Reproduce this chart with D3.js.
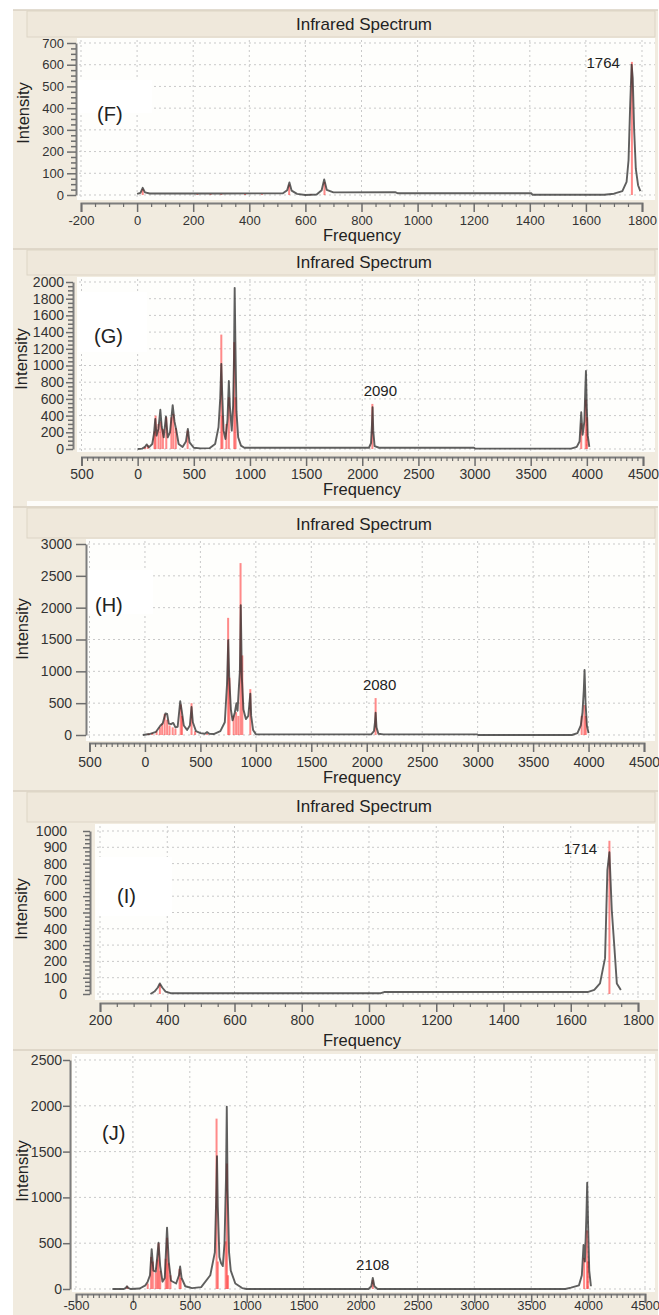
<!DOCTYPE html>
<html>
<head>
<meta charset="utf-8">
<script src="https://cdn.jsdelivr.net/npm/d3@7"></script>
<style>
  body { margin: 0; background: #fff; }
  svg { display: block; font-family: "Liberation Sans", Arial, sans-serif; }
</style>
</head>
<body>
<svg id="chart" width="659" height="1315"></svg>
<script>
// ---- data: [frequency, intensity] ----
let fSticks = [[20,28],[215,4],[262,4],[300,4],[385,5],[445,4],[542,48],[620,3],[668,60],[1764,613]];
let fCurve = [[0,5],[12,10],[20,33],[28,12],[45,7],[300,7],[520,8],[535,22],[543,58],[551,20],[570,5],[600,0],[640,2],[658,22],[667,72],[676,24],[700,12],[920,13],[930,8],[1405,8],[1410,1],[1665,1],[1700,6],[1730,18],[1745,60],[1752,160],[1758,420],[1763,600],[1767,540],[1772,300],[1778,120],[1786,45],[1794,18]];
let fXTicks = [-200,0,200,400,600,800,1000,1200,1400,1600,1800];
let fXLabels = ['-200','0','200','400','600','800','1000','1200','1400','1600','1800'];
let fYTicks = [0,100,200,300,400,500,600,700];
let fPeak = '1764';

let gSticks = [[65,25],[90,45],[150,210],[160,400],[185,300],[205,330],[225,240],[255,380],[300,380],[318,420],[340,250],[445,220],[745,1370],[755,400],[790,300],[812,620],[860,1280],[872,620],[2090,540],[3950,310],[3990,590],[4002,380]];
let gCurve = [[0,0],[40,5],[65,25],[80,55],[100,20],[130,60],[145,180],[157,360],[168,160],[185,240],[202,470],[214,270],[232,140],[252,390],[268,140],[288,200],[312,525],[328,330],[345,220],[365,60],[400,25],[430,90],[447,240],[462,80],[500,15],[560,8],[640,10],[690,60],[720,260],[735,600],[745,1020],[752,700],[765,220],[782,120],[800,350],[812,815],[822,500],[838,220],[850,520],[858,1100],[864,1930],[870,1300],[880,450],[895,140],[920,40],[950,15],[1500,15],[2060,15],[2078,70],[2086,280],[2092,500],[2098,220],[2110,35],[2150,15],[2995,15],[3005,5],[3860,5],[3910,25],[3935,90],[3950,440],[3962,170],[3978,330],[3986,700],[3992,935],[3999,520],[4008,160],[4022,25]];
let gXTicks = [-500,0,500,1000,1500,2000,2500,3000,3500,4000,4500];
let gXLabels = ['500','0','500','1000','1500','2000','2500','3000','3500','4000','4500'];
let gYTicks = [0,200,400,600,800,1000,1200,1400,1600,1800,2000];
let gPeak = '2090';

let hSticks = [[30,20],[65,30],[105,60],[135,120],[155,180],[178,330],[200,240],[222,150],[250,120],[275,100],[322,480],[334,300],[420,500],[452,60],[560,25],[750,1840],[762,900],[800,300],[822,360],[842,300],[862,2700],[878,1250],[950,720],[2080,580],[3938,300],[3962,470],[3975,300]];
let hCurve = [[-20,0],[40,15],[100,50],[140,150],[160,180],[185,340],[200,330],[215,180],[235,170],[255,190],[275,120],[295,130],[318,530],[332,380],[350,150],[380,80],[405,150],[420,440],[432,200],[460,60],[500,30],[540,20],[560,45],[580,20],[620,15],[680,60],[720,200],[740,800],[751,1490],[760,900],[775,400],[790,230],[810,350],[825,500],[835,380],[848,780],[856,1000],[864,2040],[874,900],[888,400],[910,250],[932,300],[950,650],[958,300],[975,80],[1000,10],[1500,10],[2040,10],[2065,60],[2074,200],[2080,350],[2088,120],[2105,20],[2150,10],[2995,10],[3005,0],[3850,0],[3900,30],[3930,150],[3945,350],[3957,700],[3964,1020],[3973,500],[3985,150],[4000,30]];
let hXTicks = [-500,0,500,1000,1500,2000,2500,3000,3500,4000,4500];
let hXLabels = ['500','0','500','1000','1500','2000','2500','3000','3500','4000','4500'];
let hYTicks = [0,500,1000,1500,2000,2500,3000];
let hPeak = '2080';

let iSticks = [[378,60],[1715,940]];
let iCurve = [[350,0],[362,15],[372,40],[378,65],[385,40],[395,15],[410,5],[1035,5],[1045,12],[1650,12],[1670,25],[1687,65],[1702,220],[1709,760],[1715,870],[1722,515],[1729,310],[1737,65],[1749,25]];
let iXTicks = [200,400,600,800,1000,1200,1400,1600,1800];
let iXLabels = ['200','400','600','800','1000','1200','1400','1600','1800'];
let iYTicks = [0,100,200,300,400,500,600,700,800,900,1000];
let iPeak = '1714';

let jSticks = [[-50,30],[130,60],[160,350],[175,300],[200,180],[215,320],[226,500],[240,200],[288,330],[300,560],[312,280],[330,150],[410,220],[420,120],[735,1860],[746,300],[815,520],[826,1370],[836,150],[2108,100],[3965,340],[3990,640],[4000,300]];
let jCurve = [[-180,0],[-80,0],[-62,12],[-52,30],[-42,12],[-20,0],[60,5],[110,40],[130,80],[150,150],[165,435],[180,200],[200,190],[210,300],[225,505],[240,250],[260,80],[280,120],[300,670],[315,300],[335,90],[380,60],[405,150],[415,245],[428,120],[460,30],[520,10],[600,20],[680,150],[720,400],[732,1000],[739,1450],[746,900],[760,350],[775,280],[790,250],[805,500],[818,1200],[825,1990],[832,1100],[845,400],[860,200],[900,60],[960,10],[1000,0],[2070,0],[2095,30],[2108,120],[2122,30],[2150,0],[3800,0],[3850,15],[3920,40],[3945,150],[3960,480],[3972,300],[3985,800],[3992,1160],[4000,700],[4010,200],[4025,30]];
let jXTicks = [-500,0,500,1000,1500,2000,2500,3000,3500,4000,4500];
let jXLabels = ['-500','0','500','1000','1500','2000','2500','3000','3500','4000','4500'];
let jYTicks = [0,500,1000,1500,2000,2500];
let jPeak = '2108';

// ---- layout of each panel ----
let panels = [
  { tag: '(F)', sticks: fSticks, curve: fCurve, xTicks: fXTicks, xLabels: fXLabels, yTicks: fYTicks, peak: fPeak, peakAt: 1764,
    xDomain: [-200, 1800], xRange: [81, 642], yRange: [195, 43], xMinor: 50, yMinor: 25, fs: 13, xfs: 13,
    plot: [77, 38, 655, 200], axisX: 76, yTick: 9, yPad: 3, rulerY: 203, xPad: 4,
    titleY: 30, barTop: 10, barBottom: 37, freqY: 241, intens: [23, 113],
    tagPos: [97, 121], mask: [80, 113, 152], peakPos: ['end', -12, 68] },
  { tag: '(G)', sticks: gSticks, curve: gCurve, xTicks: gXTicks, xLabels: gXLabels, yTicks: gYTicks, peak: gPeak, peakAt: 2090,
    xDomain: [-500, 4500], xRange: [81.5, 643], yRange: [449, 282], xMinor: 50, yMinor: 50, fs: 14, xfs: 14,
    plot: [77, 277, 655, 452], axisX: 73, yTick: 7, yPad: 2, rulerY: 457, xPad: 3,
    titleY: 268, barTop: 249, barBottom: 275, freqY: 495, intens: [21, 359],
    tagPos: [94, 343], mask: [292, 352, 147], peakPos: ['middle', 8, 396] },
  { tag: '(H)', sticks: hSticks, curve: hCurve, xTicks: hXTicks, xLabels: hXLabels, yTicks: hYTicks, peak: hPeak, peakAt: 2080,
    xDomain: [-500, 4500], xRange: [89.5, 644], yRange: [735, 544], xMinor: 50, yMinor: null, fs: 14, xfs: 14,
    plot: [86, 539, 655, 741], axisX: 86, yTick: 10, yPad: 4, rulerY: 743, xPad: 5,
    titleY: 530, barTop: 507, barBottom: 538, freqY: 783, intens: [22, 629],
    tagPos: [95, 612], mask: [570, 614, 153], peakPos: ['middle', 4, 690] },
  { tag: '(I)', sticks: iSticks, curve: iCurve, xTicks: iXTicks, xLabels: iXLabels, yTicks: iYTicks, peak: iPeak, peakAt: 1714,
    xDomain: [200, 1800], xRange: [100, 638], yRange: [994, 831], xMinor: 50, yMinor: 25, fs: 14, xfs: 14,
    plot: [95, 824, 655, 1000], axisX: 90, yTick: 7, yPad: 16, rulerY: 1003, xPad: 3,
    titleY: 812, barTop: 791, barBottom: 822, freqY: 1046, intens: [21, 909],
    tagPos: [117, 903], mask: [857, 916, 172], peakPos: ['end', -12, 854] },
  { tag: '(J)', sticks: jSticks, curve: jCurve, xTicks: jXTicks, xLabels: jXLabels, yTicks: jYTicks, peak: jPeak, peakAt: 2108,
    xDomain: [-500, 4500], xRange: [76, 645], yRange: [1289, 1060], xMinor: 50, yMinor: null, fs: 14, xfs: 13,
    plot: [72, 1054, 655, 1292], axisX: 70, yTick: 7, yPad: 1, rulerY: 1294, xPad: -2,
    titleY: null, barTop: 1050, barBottom: null, freqY: null, intens: [22, 1171],
    tagPos: [102, 1140], mask: null, peakPos: ['middle', 0, 1270] }
];

let svg = d3.select('#chart');
let beige = '#f1ebdf';

// page frame
svg.append('rect').attr('x', 13).attr('y', 10).attr('width', 645).attr('height', 1305).attr('fill', beige);
svg.append('rect').attr('x', 27).attr('y', 501).attr('width', 631).attr('height', 5).attr('fill', '#fdfcf9');

panels.forEach(function(p) {
  let x = d3.scaleLinear().domain(p.xDomain).range(p.xRange);
  let y = d3.scaleLinear().domain([0, d3.max(p.yTicks)]).range(p.yRange);
  let g = svg.append('g');

  // panel separators and title bar
  g.append('line').attr('x1', 13).attr('x2', 658).attr('y1', p.barTop).attr('y2', p.barTop)
    .attr('stroke', '#d9d1c2').attr('stroke-width', 1.5);
  if (p.titleY) {
    g.append('rect').attr('x', 27).attr('y', p.barTop + 1).attr('width', 628).attr('height', p.barBottom - p.barTop - 1)
      .attr('fill', '#efe8db').attr('stroke', '#ddd5c6');
    g.append('text').attr('x', 364).attr('y', p.titleY).attr('text-anchor', 'middle')
      .attr('font-size', 17).attr('fill', '#222').text('Infrared Spectrum');
  }

  // plot area
  let [px0, py0, px1, py1] = p.plot;
  g.append('rect').attr('x', px0).attr('y', py0).attr('width', px1 - px0).attr('height', py1 - py0).attr('fill', '#fefefc');

  // dotted grid
  g.selectAll('.vgrid').data(p.xTicks).enter().append('line')
    .attr('x1', d => x(d)).attr('x2', d => x(d)).attr('y1', py0 + 2).attr('y2', py1 - 1)
    .attr('stroke', '#c9c9c9').attr('stroke-dasharray', '2,3');
  g.selectAll('.hgrid').data(p.yTicks).enter().append('line')
    .attr('x1', px0 + 2).attr('x2', px1).attr('y1', d => y(d)).attr('y2', d => y(d))
    .attr('stroke', '#c9c9c9').attr('stroke-dasharray', '2,3');

  if (p.mask) {
    g.append('rect').attr('x', px0 + 1).attr('y', p.mask[0]).attr('width', p.mask[2] - px0 - 1)
      .attr('height', p.mask[1] - p.mask[0]).attr('fill', '#fff');
  }

  // red sticks
  g.selectAll('.stick').data(p.sticks).enter().append('line')
    .attr('x1', d => x(d[0])).attr('x2', d => x(d[0]))
    .attr('y1', y(0)).attr('y2', d => y(d[1]))
    .attr('stroke', '#ff2a2a').attr('stroke-opacity', 0.55).attr('stroke-width', 2);

  // broadened spectrum
  let line = d3.line().x(d => x(d[0])).y(d => y(d[1]));
  g.append('path').datum(p.curve).attr('d', line)
    .attr('fill', 'none').attr('stroke', '#2a2a2a').attr('stroke-opacity', 0.75)
    .attr('stroke-width', 1.9).attr('stroke-linejoin', 'round');

  // y axis
  let yAxis = g.append('g').attr('transform', 'translate(' + p.axisX + ',0)')
    .call(d3.axisLeft(y).tickValues(p.yTicks).tickSize(p.yTick).tickSizeOuter(0)
      .tickPadding(p.yPad).tickFormat(d3.format('d')));
  yAxis.select('.domain').attr('stroke', '#7d7d7d').attr('stroke-width', 2);
  yAxis.selectAll('.tick line').attr('stroke', '#6d6d6d').attr('stroke-width', 1.5);
  yAxis.selectAll('text').attr('font-size', p.fs).attr('fill', '#333').attr('font-family', null);
  if (p.yMinor) {
    let minor = d3.range(0, d3.max(p.yTicks), p.yMinor).filter(v => p.yTicks.indexOf(v) < 0);
    let ym = g.append('g').attr('transform', 'translate(' + p.axisX + ',0)')
      .call(d3.axisLeft(y).tickValues(minor).tickSize(5).tickFormat(''));
    ym.select('.domain').remove();
    ym.selectAll('.tick line').attr('stroke', '#6d6d6d').attr('stroke-width', 1.5);
  }

  // x ruler
  let xAxis = g.append('g').attr('transform', 'translate(0,' + p.rulerY + ')')
    .call(d3.axisBottom(x).tickValues(p.xTicks).tickSize(9).tickSizeOuter(9).tickPadding(p.xPad)
      .tickFormat((d, i) => p.xLabels[i]));
  xAxis.select('.domain').attr('stroke', '#7d7d7d').attr('stroke-width', 2);
  xAxis.selectAll('.tick line').attr('stroke', '#6d6d6d').attr('stroke-width', 1.5);
  xAxis.selectAll('text').attr('font-size', p.xfs).attr('fill', '#333').attr('font-family', null);
  let xminor = d3.range(p.xDomain[0], p.xDomain[1], p.xMinor).filter(v => p.xTicks.indexOf(v) < 0);
  let xm = g.append('g').attr('transform', 'translate(0,' + p.rulerY + ')')
    .call(d3.axisBottom(x).tickValues(xminor).tickSize(4).tickFormat(''));
  xm.select('.domain').remove();
  xm.selectAll('.tick line').attr('stroke', '#6d6d6d').attr('stroke-width', 1.2);

  // axis titles
  if (p.freqY) {
    g.append('text').attr('x', 362).attr('y', p.freqY).attr('text-anchor', 'middle')
      .attr('font-size', 16.5).attr('fill', '#222').text('Frequency');
  }
  g.append('text').attr('transform', 'translate(' + p.intens[0] + ',' + p.intens[1] + ') rotate(-90)')
    .attr('text-anchor', 'middle').attr('dy', '0.35em')
    .attr('font-size', 16.5).attr('fill', '#222').text('Intensity');

  // panel tag and peak label
  g.append('text').attr('x', p.tagPos[0]).attr('y', p.tagPos[1])
    .attr('font-size', 20).attr('fill', '#222').text(p.tag);
  g.append('text').attr('x', x(p.peakAt) + p.peakPos[1]).attr('y', p.peakPos[2])
    .attr('text-anchor', p.peakPos[0]).attr('font-size', 15).attr('fill', '#222').text(p.peak);
});
</script>
</body>
</html>
